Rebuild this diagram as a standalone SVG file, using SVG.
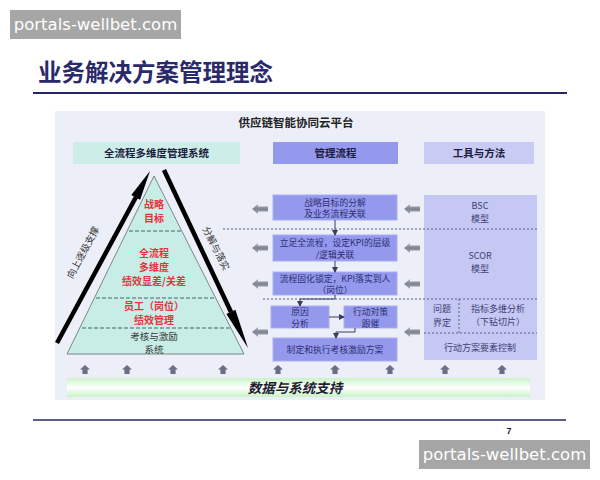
<svg xmlns="http://www.w3.org/2000/svg" width="600" height="480" viewBox="0 0 600 480">
<defs>
<style>
.cjk{font-family:"Noto Sans CJK SC","Noto Sans",sans-serif}
.wm{font-family:"DejaVu Sans","Noto Sans",sans-serif;font-size:16.5px;fill:#ffffff}
.mid{font-family:"Noto Sans CJK SC",sans-serif;font-size:8.8px;fill:#2d2f70;text-anchor:middle}
.tool{font-family:"Noto Sans CJK SC",sans-serif;font-size:9px;fill:#3e4078;text-anchor:middle}
.red{font-family:"Noto Sans CJK SC",sans-serif;font-size:10px;font-weight:bold;fill:#e8303c;text-anchor:middle}
.hdr{font-family:"Noto Sans CJK SC",sans-serif;font-size:10.5px;font-weight:bold;fill:#1e2040;text-anchor:middle}
.pbox{fill:#9499ee;stroke:#a9adf2;stroke-width:1}
.dot{stroke:#5a5f8a;stroke-width:1;stroke-dasharray:2 2;fill:none}
.dash{stroke:#3c6a6a;stroke-width:1;stroke-dasharray:4 2;fill:none}
.thin{stroke:#3a3c60;stroke-width:1;fill:none}
</style>
<linearGradient id="gbar" x1="0" y1="0" x2="0" y2="1">
<stop offset="0" stop-color="#c9f3c6"/>
<stop offset="0.5" stop-color="#ffffff"/>
<stop offset="1" stop-color="#c9f3c6"/>
</linearGradient>
<linearGradient id="garr" x1="0" y1="0" x2="0" y2="1">
<stop offset="0" stop-color="#b5b9c2"/>
<stop offset="0.5" stop-color="#7e838f"/>
<stop offset="1" stop-color="#a9adb7"/>
</linearGradient>
<path id="la" d="M0,0 L6,-5 L6,-2.5 L16,-2.5 L16,2.5 L6,2.5 L6,5 Z" fill="url(#garr)"/>
<path id="ua" d="M0,0 L-5,4.5 L-2.6,4.5 L-2.6,9 L2.6,9 L2.6,4.5 L5,4.5 Z" fill="#6b6f86"/>
<marker id="ah" markerWidth="6" markerHeight="6" refX="5" refY="3" orient="auto" markerUnits="userSpaceOnUse">
<path d="M0,0 L6,3 L0,6 Z" fill="#3a3c60"/>
</marker>
</defs>
<rect width="600" height="480" fill="#ffffff"/>

<g id="watermark-top">
<rect x="10" y="10" width="171" height="29" fill="#a6a6a6"/>
<text x="95.5" y="30" class="wm" text-anchor="middle">portals-wellbet.com</text>
</g>

<g id="title">
<text x="38" y="81" class="cjk" font-size="23.5" font-weight="bold" fill="#2a2a6a">业务解决方案管理理念</text>
<line x1="33" y1="93" x2="567" y2="93" stroke="#262660" stroke-width="2"/>
</g>

<rect id="panel" x="55" y="111" width="490" height="289" fill="#eceef8"/>
<text x="296" y="127" class="cjk" font-size="11.5" font-weight="bold" fill="#222222" text-anchor="middle">供应链智能协同云平台</text>

<g id="hdr-left"><rect x="73" y="142" width="167" height="22" fill="#cdeee8"/><text x="156.5" y="157" class="hdr">全流程多维度管理系统</text></g>
<g id="hdr-mid"><rect x="273" y="142" width="125" height="22" fill="#9499ee"/><text x="335.5" y="157" class="hdr">管理流程</text></g>
<g id="hdr-right"><rect x="424" y="142" width="110" height="22" fill="#c9cbf4"/><text x="479" y="157" class="hdr">工具与方法</text></g>

<g id="pyramid">
<polygon points="154,176 67,354 244,354" fill="#c8ece6" stroke="#7a8888" stroke-width="1"/>
<line x1="129" y1="231" x2="181" y2="231" class="dash"/>
<line x1="96" y1="298" x2="216" y2="298" class="dash"/>
<line x1="82" y1="328" x2="230" y2="328" class="dash"/>
<text x="154" y="208" class="red">战略</text>
<text x="154" y="222" class="red">目标</text>
<text x="154" y="257" class="red">全流程</text>
<text x="154" y="271" class="red">多维度</text>
<text x="154" y="285" class="red">绩效显差/关差</text>
<text x="154" y="310" class="red">员工（岗位）</text>
<text x="154" y="324" class="red">绩效管理</text>
<text x="154" y="340" class="cjk" font-size="9.5" fill="#3a3a3a" text-anchor="middle">考核与激励</text>
<text x="154" y="353" class="cjk" font-size="9.5" fill="#3a3a3a" text-anchor="middle">系统</text>
</g>

<g id="arrow-up-side">
<line x1="57" y1="343" x2="136" y2="197" stroke="#000000" stroke-width="4.5"/>
<polygon points="150,171 140.1,199.8 131.3,195" fill="#000000"/>
<text transform="translate(86,254) rotate(-62)" class="cjk" font-size="9.5" fill="#333333" text-anchor="middle">向上逐级支撑</text>
</g>
<g id="arrow-down-side">
<line x1="164" y1="170" x2="231" y2="312" stroke="#000000" stroke-width="4.5"/>
<polygon points="248,348 235.4,309.7 226.4,313.9" fill="#000000"/>
<text transform="translate(213,250) rotate(63)" class="cjk" font-size="9.5" fill="#333333" text-anchor="middle">分解与落实</text>
</g>

<g id="tools-box">
<rect x="424" y="195" width="113" height="165" fill="#c5c8f2"/>
<text x="480" y="209" class="tool">BSC</text>
<text x="480" y="222" class="tool">模型</text>
<text x="480" y="259" class="tool">SCOR</text>
<text x="480" y="272" class="tool">模型</text>
<text x="442" y="312" class="tool">问题</text>
<text x="442" y="326" class="tool">界定</text>
<text x="498" y="312" class="tool">指标多维分析</text>
<text x="498" y="325" class="tool">（下钻切片）</text>
<text x="480" y="351" class="tool">行动方案要素控制</text>
</g>

<g id="dividers">
<line x1="223" y1="229" x2="537" y2="229" class="dot"/>
<line x1="263" y1="299" x2="537" y2="299" class="dot"/>
<line x1="459" y1="299" x2="459" y2="333" class="dot"/>
<line x1="424" y1="333" x2="537" y2="333" class="dot"/>
</g>

<g id="step1"><rect x="273" y="195" width="124" height="25" class="pbox"/><text x="335" y="205.5" class="mid">战略目标的分解</text><text x="335" y="217" class="mid">及业务流程关联</text></g>
<g id="step2"><rect x="273" y="235" width="124" height="26" class="pbox"/><text x="335" y="246" class="mid">立足全流程，设定KPI的层级</text><text x="335" y="258" class="mid">/逻辑关联</text></g>
<g id="step3"><rect x="273" y="272" width="124" height="23" class="pbox"/><text x="335" y="281.5" class="mid">流程固化锁定，KPI落实到人</text><text x="335" y="293" class="mid">（岗位）</text></g>
<g id="cause"><rect x="271" y="306" width="58" height="22" class="pbox"/><text x="300" y="315" class="mid">原因</text><text x="300" y="326.5" class="mid">分析</text></g>
<g id="action"><rect x="344" y="306" width="53" height="22" class="pbox"/><text x="370.5" y="315" class="mid">行动对策</text><text x="370.5" y="326.5" class="mid">跟催</text></g>
<g id="step5"><rect x="273" y="338" width="124" height="23" class="pbox"/><text x="335" y="352.5" class="mid">制定和执行考核激励方案</text></g>

<g id="connectors">
<line x1="335" y1="220" x2="335" y2="235" class="thin" marker-end="url(#ah)"/>
<line x1="335" y1="261" x2="335" y2="272" class="thin" marker-end="url(#ah)"/>
<polyline points="335,295 335,299 300,299 300,306" class="thin" marker-end="url(#ah)"/>
<line x1="329" y1="317" x2="344" y2="317" class="thin" marker-end="url(#ah)"/>
<polyline points="355,328 355,332 336,332 336,338" class="thin" marker-end="url(#ah)"/>
</g>

<g id="side-arrows">
<use href="#la" x="252" y="209"/>
<use href="#la" x="252" y="248"/>
<use href="#la" x="252" y="284"/>
<use href="#la" x="252" y="332"/>
<use href="#la" x="404" y="209"/>
<use href="#la" x="404" y="248"/>
<use href="#la" x="404" y="284"/>
<use href="#la" x="404" y="332"/>
</g>

<g id="up-arrows">
<use href="#ua" x="85" y="365"/>
<use href="#ua" x="127" y="365"/>
<use href="#ua" x="173" y="365"/>
<use href="#ua" x="223" y="365"/>
<use href="#ua" x="278" y="365"/>
<use href="#ua" x="335" y="365"/>
<use href="#ua" x="390" y="365"/>
<use href="#ua" x="445" y="365"/>
<use href="#ua" x="502" y="365"/>
</g>

<g id="data-bar">
<rect x="67" y="378" width="463" height="19" fill="url(#gbar)"/>
<text x="295" y="393" class="cjk" font-size="13.5" font-weight="bold" font-style="italic" fill="#1e1e30" text-anchor="middle">数据与系统支持</text>
</g>

<g id="footer">
<line x1="33" y1="420" x2="566" y2="420" stroke="#262660" stroke-width="1.5"/>
<text x="509" y="434" font-family="Liberation Sans,sans-serif" font-size="9" font-weight="bold" fill="#222222" text-anchor="middle">7</text>
</g>

<g id="watermark-bottom">
<rect x="419" y="440" width="171" height="29" fill="#a6a6a6"/>
<text x="504.5" y="460" class="wm" text-anchor="middle">portals-wellbet.com</text>
</g>
</svg>
